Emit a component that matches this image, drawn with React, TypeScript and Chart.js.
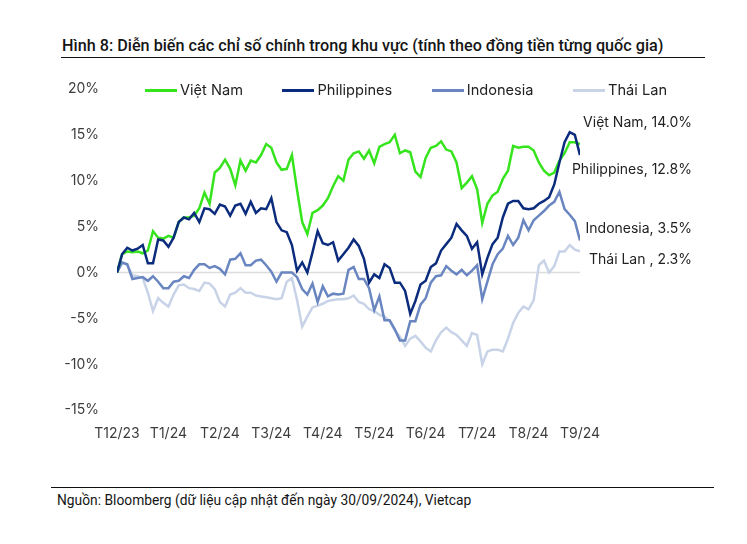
import React, { useEffect, useRef } from "react";
import { Chart, registerables } from "chart.js";

Chart.register(...registerables);

// ---------- data ----------
const monthLabels = ["T12/23", "T1/24", "T2/24", "T3/24", "T4/24", "T5/24", "T6/24", "T7/24", "T8/24", "T9/24"];
const POINTS_PER_MONTH = 10;
const seriesNames = ["Việt Nam", "Philippines", "Indonesia", "Thái Lan"];
const endLabelNames = ["Việt Nam", "Philippines", "Indonesia", "Thái Lan "];
const yTickValues = [-15, -10, -5, 0, 5, 10, 15, 20];

const vietnam = [
  0, 2.0, 2.3, 2.2, 2.3, 2.1, 2.4, 4.5, 3.8, 3.7,
  4.0, 3.8, 5.5, 6.0, 6.0, 6.2, 7.0, 8.7, 7.5, 10.9,
  11.4, 12.3, 11.3, 9.5, 12.2, 11.1, 12.2, 12.0, 12.8, 14.0,
  13.6, 12.0, 11.2, 11.3, 12.8, 9.0, 5.5, 4.2, 6.5, 6.8,
  7.3, 8.1, 9.4, 10.5, 10.0, 12.3, 13.0, 13.2, 12.4, 13.3,
  11.9, 13.7, 14.0, 14.2, 15.0, 13.0, 13.3, 13.1, 11.0, 10.4,
  12.5, 13.6, 13.8, 14.3, 13.4, 13.2, 12.0, 9.2, 9.8, 10.5,
  9.1, 5.4, 7.5, 8.4, 8.8, 10.2, 11.1, 13.8, 13.6, 13.7,
  13.7, 13.3, 12.0, 11.1, 10.6, 10.9, 12.2, 13.0, 14.2, 14.2,
  14.0,
];

const philippines = [
  0, 2.0, 2.7, 2.4, 2.6, 3.0, 1.0, 1.0, 3.6, 3.5,
  2.8, 3.8, 5.5, 6.0, 5.8, 6.5, 5.5, 7.0, 6.9, 6.4,
  7.4, 7.2, 6.2, 7.3, 7.5, 6.4, 7.7, 6.5, 7.0, 6.9,
  8.1, 5.5, 4.6, 4.4, 3.0, 0.2, 1.1, 0.0, 2.2, 4.5,
  3.2, 3.0, 3.3, 1.3, 2.0, 2.7, 3.6, 2.9, 1.5, -1.1,
  -0.2, -0.6, 0.9, 0.5, -1.1, -1.1, -2.0, -4.5, -3.1, -1.3,
  -0.9, 0.6, 1.0, 2.4, 3.1, 3.8, 5.3, 4.6, 4.0, 2.6,
  3.3, -0.2, 1.6, 3.1, 3.8, 6.0, 7.5, 7.8, 7.8, 7.0,
  6.9, 7.0, 7.5, 7.8, 8.2, 9.6, 12.0, 14.2, 15.3, 15.0,
  12.8,
];

const indonesia = [
  0, 1.1, 0.9, -0.7, -0.6, -0.5, -0.9, -0.4, -1.0, -1.7,
  -1.7, -1.0, -0.9, -0.4, -0.6, 0.3, 0.9, 0.9, 0.5, 0.7,
  0.4, -0.2, 1.4, 1.5, 2.1, 0.8, 0.8, 1.3, 1.4, 0.8,
  0.1, -1.0, 0.0, 0.0, 0.0, -0.5, -1.8, -2.4, -1.2, -3.2,
  -1.5, -2.6, -2.3, -2.4, -2.3, 0.3, 0.6, -0.7, -0.7, -1.7,
  -4.1, -2.6, -5.2, -5.2, -6.2, -7.4, -7.4, -5.3, -5.3, -3.5,
  -2.8, -1.1, -0.4, -0.3, 0.7, 0.2, -0.2, 0.3, -0.3, 0.2,
  0.8, -2.9, -1.0, 0.9, 2.0, 2.6, 4.0, 3.0, 3.8, 5.7,
  4.6, 5.7, 6.2, 6.7, 7.3, 7.7, 8.8, 6.9, 6.3, 5.6,
  3.5,
];

const thailand = [
  0, 1.1, 0.8, -0.3, -0.4, -0.6, -2.2, -4.2, -2.8, -3.3,
  -3.7, -2.4, -1.4, -1.3, -1.7, -1.8, -2.0, -1.1, -1.2, -1.8,
  -3.2, -3.7, -2.4, -2.2, -1.7, -2.2, -2.2, -2.5, -2.6, -2.7,
  -2.8, -2.9, -2.8, -1.0, -0.6, -3.0, -5.9, -4.8, -3.8, -3.6,
  -3.4, -3.1, -3.0, -2.9, -2.9, -2.8, -2.5, -3.2, -3.4, -4.0,
  -4.2, -4.6, -4.8, -5.3, -6.3, -7.0, -8.0, -7.2, -6.9, -7.5,
  -8.2, -8.6, -7.4, -6.5, -6.0, -6.5, -6.8, -7.4, -8.0, -6.6,
  -6.8, -10.0, -8.6, -8.4, -8.4, -8.6, -7.2, -5.5, -4.4, -3.7,
  -4.0, -3.0, 0.8, 1.3, 0.0, 0.7, 2.3, 2.3, 3.0, 2.5,
  2.3,
];

const allSeries = [vietnam, philippines, indonesia, thailand];

// ---------- styles ----------
const seriesColors = ["#36e41e", "#0b2c7c", "#6a86c1", "#c8d3e8"];
const seriesOrder = [2, 1, 3, 4];
const zeroColor = "#dcdcdc";
const FONT = "Inter, 'Noto Sans', sans-serif";
const TEXT_FONT = "Roboto, 'Noto Sans', sans-serif";
const endLabelOffsets = [-21, 15, -12, 8];

const toPoints = (arr: number[]) => arr.map((v, i) => ({ x: i, y: v }));

const endLabelPlugin = {
  id: "endLabels",
  afterDatasetsDraw(chart: any) {
    const { ctx, chartArea, scales } = chart;
    ctx.save();
    ctx.font = `14px ${FONT}`;
    ctx.fillStyle = "#222222";
    ctx.textAlign = "right";
    ctx.textBaseline = "middle";
    allSeries.forEach((s, k) => {
      const last = s[s.length - 1];
      const y = scales.y.getPixelForValue(last) + endLabelOffsets[k];
      ctx.fillText(`${endLabelNames[k]}, ${last.toFixed(1)}%`, chartArea.right + 112, y);
    });
    ctx.restore();
  },
};

export default function App() {
  const canvasRef = useRef<HTMLCanvasElement | null>(null);

  useEffect(() => {
    if (!canvasRef.current) return;
    const lastIndex = (monthLabels.length - 1) * POINTS_PER_MONTH;
    const datasets: any[] = allSeries.map((s, k) => ({
      label: seriesNames[k],
      data: toPoints(s),
      borderColor: seriesColors[k],
      backgroundColor: seriesColors[k],
      borderWidth: 2.5,
      pointRadius: 0,
      tension: 0,
      order: seriesOrder[k],
    }));
    datasets.push({
      label: "zero",
      data: toPoints(vietnam.map(() => 0)),
      borderColor: zeroColor,
      borderWidth: 1.5,
      pointRadius: 0,
      order: 10,
    });

    const chart = new Chart(canvasRef.current, {
      type: "line",
      data: { datasets },
      options: {
        animation: false,
        responsive: false,
        events: [],
        layout: { padding: { top: 29, right: 167, bottom: 10, left: 0 } },
        plugins: { legend: { display: false }, tooltip: { enabled: false } },
        scales: {
          x: {
            type: "linear",
            min: 0,
            max: lastIndex,
            grid: { display: false, drawTicks: false },
            border: { display: false },
            afterBuildTicks: (scale: any) => {
              scale.ticks = monthLabels.map((_, i) => ({ value: i * POINTS_PER_MONTH }));
            },
            ticks: {
              autoSkip: false,
              maxRotation: 0,
              padding: 15,
              color: "#3d3d3d",
              font: { family: FONT, size: 14 },
              callback: (v: any) => monthLabels[Math.round(Number(v) / POINTS_PER_MONTH)],
            },
          },
          y: {
            min: yTickValues[0],
            max: yTickValues[yTickValues.length - 1],
            afterFit: (scale: any) => {
              scale.width = 117;
            },
            afterBuildTicks: (scale: any) => {
              scale.ticks = yTickValues.map((v) => ({ value: v }));
            },
            grid: { display: false, drawTicks: false },
            border: { display: false },
            ticks: {
              padding: 18,
              color: "#3d3d3d",
              font: { family: FONT, size: 14 },
              callback: (v: any) => `${v}%`,
            },
          },
        },
      },
      plugins: [endLabelPlugin],
    });
    return () => chart.destroy();
  }, []);

  return (
    <div
      style={{
        position: "absolute",
        left: 0,
        top: 0,
        width: 747,
        height: 544,
        background: "#ffffff",
        overflow: "hidden",
      }}
    >
      <div
        style={{
          position: "absolute",
          left: 62,
          top: 36,
          fontFamily: TEXT_FONT,
          fontWeight: 500,
          fontSize: 16.2,
          color: "#151515",
          whiteSpace: "nowrap",
          lineHeight: "19px",
        }}
      >
        Hình 8: Diễn biến các chỉ số chính trong khu vực (tính theo đồng tiền từng quốc gia)
      </div>
      <div style={{ position: "absolute", left: 61, top: 57, width: 644, height: 1, background: "#111" }} />

      <canvas
        ref={canvasRef}
        width={747}
        height={407}
        style={{ position: "absolute", left: 0, top: 60, width: 747, height: 407 }}
      />

      <div
        style={{
          position: "absolute",
          left: 145,
          top: 81,
          height: 18,
          display: "flex",
          alignItems: "center",
          gap: 39.5,
          fontFamily: FONT,
          fontSize: 14.6,
          color: "#222",
          whiteSpace: "nowrap",
        }}
      >
        {seriesNames.map((n, k) => (
          <div key={n} style={{ display: "flex", alignItems: "center", gap: 3 }}>
            <span style={{ display: "inline-block", width: 32, height: 3, background: seriesColors[k] }} />
            <span>{n}</span>
          </div>
        ))}
      </div>

      <div style={{ position: "absolute", left: 51, top: 487, width: 663, height: 1, background: "#111" }} />
      <div
        style={{
          position: "absolute",
          left: 57,
          top: 492,
          fontFamily: TEXT_FONT,
          fontSize: 13.8,
          color: "#151515",
          whiteSpace: "nowrap",
          lineHeight: "16px",
        }}
      >
        Nguồn: Bloomberg (dữ liệu cập nhật đến ngày 30/09/2024), Vietcap
      </div>
    </div>
  );
}
